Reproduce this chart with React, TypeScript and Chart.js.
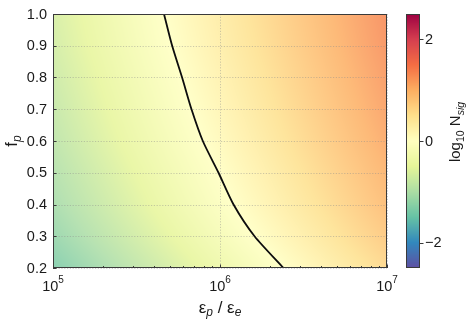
import React, { useEffect, useRef } from 'react';
import { Chart, registerables } from 'chart.js';

Chart.register(...registerables);

// ---- axis ticks ----
const yTicks = [0.2, 0.3, 0.4, 0.5, 0.6, 0.7, 0.8, 0.9, 1.0];
const yTickLabels = ['0.2', '0.3', '0.4', '0.5', '0.6', '0.7', '0.8', '0.9', '1.0'];
const xMajorTicks = [1e5, 1e6, 1e7];
const xTickExponents = ['5', '6', '7'];
const xMinorTicks = [2e5, 3e5, 4e5, 5e5, 6e5, 7e5, 8e5, 9e5, 2e6, 3e6, 4e6, 5e6, 6e6, 7e6, 8e6, 9e6];
const cbTicks = [-2, 0, 2];
const cbTickLabels = ['\u22122', '0', '2'];
const cbMin = -2.5;
const cbMax = 2.5;

// ---- heat map grid: log10 N_sig at (log10 eps_p/eps_e, f_p) ----
const gridLogEps = [5.0, 5.25, 5.5, 5.75, 6.0, 6.25, 6.5, 6.75, 7.0];
const gridF = [0.2, 0.3, 0.4, 0.5, 0.6, 0.7, 0.8, 0.9, 1.0];
const nsigF02 = [-1.38, -1.13, -0.88, -0.63, -0.38, -0.13, 0.12, 0.37, 0.62];
const nsigF03 = [-1.21, -0.96, -0.71, -0.46, -0.21, 0.04, 0.29, 0.54, 0.79];
const nsigF04 = [-1.08, -0.83, -0.58, -0.33, -0.08, 0.17, 0.42, 0.67, 0.92];
const nsigF05 = [-0.99, -0.74, -0.49, -0.24, 0.01, 0.26, 0.51, 0.76, 1.01];
const nsigF06 = [-0.9, -0.65, -0.4, -0.15, 0.1, 0.35, 0.6, 0.85, 1.1];
const nsigF07 = [-0.83, -0.58, -0.33, -0.08, 0.17, 0.42, 0.67, 0.92, 1.17];
const nsigF08 = [-0.77, -0.52, -0.27, -0.02, 0.23, 0.48, 0.73, 0.98, 1.23];
const nsigF09 = [-0.71, -0.46, -0.21, 0.04, 0.29, 0.54, 0.79, 1.04, 1.29];
const nsigF10 = [-0.67, -0.42, -0.17, 0.08, 0.33, 0.58, 0.83, 1.08, 1.33];

// ---- contour N_sig = 1 ----
const contourEps = [4.62e5, 5.17e5, 5.93e5, 6.75e5, 7.89e5, 9.8e5, 1.205e6, 1.61e6, 2.4e6];
const contourF = [1.0, 0.9, 0.8, 0.7, 0.6, 0.5, 0.4, 0.3, 0.2];

const SPECTRAL: number[][] = [
  [158, 1, 66], [213, 62, 79], [244, 109, 67], [253, 174, 97], [254, 224, 139],
  [255, 255, 191], [230, 245, 152], [171, 221, 164], [102, 194, 165], [50, 136, 189], [94, 79, 162],
];

function spectralR(t: number): number[] {
  const s = 1 - Math.max(0, Math.min(1, t));
  const p = s * 10;
  const i = Math.min(9, Math.floor(p));
  const f = p - i;
  const a = SPECTRAL[i];
  const b = SPECTRAL[i + 1];
  return [a[0] + (b[0] - a[0]) * f, a[1] + (b[1] - a[1]) * f, a[2] + (b[2] - a[2]) * f];
}

const HEAT_ALPHA = 0.85;
const FONT = '"Liberation Sans", Arial, sans-serif';
const AXIS_COLOR = '#3a3a3a';
const TICK_FONT_SIZE = 14.5;

type Part = { t: string; size: number; dy?: number; italic?: boolean };

function fontOf(p: Part) {
  return `${p.italic ? 'italic ' : ''}${p.size}px ${FONT}`;
}

function drawRich(ctx: CanvasRenderingContext2D, parts: Part[], x: number, y: number, align: 'left' | 'center' | 'right') {
  let total = 0;
  for (const p of parts) {
    ctx.font = fontOf(p);
    total += ctx.measureText(p.t).width;
  }
  let cx = align === 'left' ? x : align === 'center' ? x - total / 2 : x - total;
  ctx.textAlign = 'left';
  ctx.textBaseline = 'alphabetic';
  for (const p of parts) {
    ctx.font = fontOf(p);
    ctx.fillText(p.t, cx, y + (p.dy || 0));
    cx += ctx.measureText(p.t).width;
  }
}

const heatPlugin = {
  id: 'heat',
  beforeDatasetsDraw(chart: any) {
    const ctx: CanvasRenderingContext2D = chart.ctx;
    const xs = chart.scales.x;
    const ys = chart.scales.y;
    const grid = [nsigF02, nsigF03, nsigF04, nsigF05, nsigF06, nsigF07, nsigF08, nsigF09, nsigF10];
    const a = chart.chartArea;
    const x0 = Math.round(a.left);
    const y0 = Math.round(a.top);
    const w = Math.round(a.right) - x0;
    const h = Math.round(a.bottom) - y0;
    const img = ctx.createImageData(w, h);
    const find = (arr: number[], v: number) => {
      let i = 0;
      while (i < arr.length - 2 && v > arr[i + 1]) i++;
      const t = Math.max(0, Math.min(1, (v - arr[i]) / (arr[i + 1] - arr[i])));
      return [i, t];
    };
    for (let py = 0; py < h; py++) {
      const fv = ys.getValueForPixel(y0 + py + 0.5);
      const [j, tj] = find(gridF, fv);
      for (let px = 0; px < w; px++) {
        const le = Math.log10(xs.getValueForPixel(x0 + px + 0.5));
        const [i, ti] = find(gridLogEps, le);
        const v00 = grid[j][i], v01 = grid[j][i + 1], v10 = grid[j + 1][i], v11 = grid[j + 1][i + 1];
        const v = (v00 * (1 - ti) + v01 * ti) * (1 - tj) + (v10 * (1 - ti) + v11 * ti) * tj;
        const c = spectralR((v - cbMin) / (cbMax - cbMin));
        const k = (py * w + px) * 4;
        img.data[k] = c[0] * HEAT_ALPHA + 255 * (1 - HEAT_ALPHA);
        img.data[k + 1] = c[1] * HEAT_ALPHA + 255 * (1 - HEAT_ALPHA);
        img.data[k + 2] = c[2] * HEAT_ALPHA + 255 * (1 - HEAT_ALPHA);
        img.data[k + 3] = 255;
      }
    }
    ctx.putImageData(img, x0, y0);

    // dotted grid
    ctx.save();
    ctx.strokeStyle = 'rgba(140,140,140,0.55)';
    ctx.lineWidth = 0.8;
    ctx.setLineDash([1.2, 1.6]);
    for (const t of yTicks) {
      const y = Math.round(ys.getPixelForValue(t)) + 0.5;
      ctx.beginPath();
      ctx.moveTo(a.left, y);
      ctx.lineTo(a.right, y);
      ctx.stroke();
    }
    for (const t of xMajorTicks) {
      const x = Math.round(xs.getPixelForValue(t)) + 0.5;
      ctx.beginPath();
      ctx.moveTo(x, a.top);
      ctx.lineTo(x, a.bottom);
      ctx.stroke();
    }
    ctx.restore();
  },
  afterDraw(chart: any) {
    const ctx: CanvasRenderingContext2D = chart.ctx;
    const xs = chart.scales.x;
    const ys = chart.scales.y;
    const cs = chart.scales.cb;
    const a = chart.chartArea;
    ctx.save();
    ctx.setLineDash([]);
    // frame
    ctx.strokeStyle = AXIS_COLOR;
    ctx.lineWidth = 1;
    ctx.strokeRect(Math.round(a.left) + 0.5, Math.round(a.top) + 0.5, Math.round(a.right - a.left) - 1, Math.round(a.bottom - a.top) - 1);
    // ticks
    ctx.beginPath();
    for (const t of yTicks) {
      const y = Math.round(ys.getPixelForValue(t)) + 0.5;
      ctx.moveTo(a.left, y);
      ctx.lineTo(a.left + 3.5, y);
    }
    for (const t of xMajorTicks) {
      const x = Math.round(xs.getPixelForValue(t)) + 0.5;
      ctx.moveTo(x, a.bottom);
      ctx.lineTo(x, a.bottom - 3.5);
    }
    for (const t of xMinorTicks) {
      const x = Math.round(xs.getPixelForValue(t)) + 0.5;
      ctx.moveTo(x, a.bottom);
      ctx.lineTo(x, a.bottom - 2);
    }
    ctx.stroke();

    // tick labels
    ctx.fillStyle = '#1a1a1a';
    ctx.font = `${TICK_FONT_SIZE}px ${FONT}`;
    ctx.textAlign = 'right';
    ctx.textBaseline = 'middle';
    yTicks.forEach((t, i) => {
      ctx.fillText(yTickLabels[i], a.left - 6, ys.getPixelForValue(t) + 0.5);
    });
    xMajorTicks.forEach((t, i) => {
      const x = xs.getPixelForValue(t);
      drawRich(ctx, [
        { t: '10', size: TICK_FONT_SIZE },
        { t: xTickExponents[i], size: 10, dy: -7.5 },
      ], x, a.bottom + 22.5, 'center');
    });

    // axis titles
    drawRich(ctx, [
      { t: '\u03b5', size: 17 },
      { t: 'p', size: 12, dy: 3.5, italic: true },
      { t: ' / \u03b5', size: 17 },
      { t: 'e', size: 12, dy: 3.5, italic: true },
    ], (a.left + a.right) / 2, 312.5, 'center');

    ctx.save();
    ctx.translate(17, (a.top + a.bottom) / 2);
    ctx.rotate(-Math.PI / 2);
    drawRich(ctx, [
      { t: 'f', size: 16.5 },
      { t: 'p', size: 12, dy: 3.5, italic: true },
    ], 0, 0, 'center');
    ctx.restore();

    // colorbar
    const cbL = 406;
    const cbR = 420;
    const top = Math.round(cs.getPixelForValue(cbMax));
    const bot = Math.round(cs.getPixelForValue(cbMin));
    for (let y = top; y < bot; y++) {
      const v = cs.getValueForPixel(y + 0.5);
      const c = spectralR((v - cbMin) / (cbMax - cbMin));
      ctx.fillStyle = `rgb(${c[0]},${c[1]},${c[2]})`;
      ctx.fillRect(cbL, y, cbR - cbL, 1);
    }
    ctx.strokeStyle = AXIS_COLOR;
    ctx.lineWidth = 1;
    ctx.strokeRect(cbL + 0.5, top + 0.5, cbR - cbL - 1, bot - top - 1);
    ctx.beginPath();
    for (const t of cbTicks) {
      const y = Math.round(cs.getPixelForValue(t)) + 0.5;
      ctx.moveTo(cbR, y);
      ctx.lineTo(cbR + 3.5, y);
    }
    ctx.stroke();
    ctx.fillStyle = '#1a1a1a';
    ctx.font = `${TICK_FONT_SIZE}px ${FONT}`;
    ctx.textAlign = 'left';
    ctx.textBaseline = 'middle';
    cbTicks.forEach((t, i) => {
      ctx.fillText(cbTickLabels[i], cbR + 5, cs.getPixelForValue(t) + 0.5);
    });
    ctx.save();
    ctx.translate(460, 132);
    ctx.rotate(-Math.PI / 2);
    drawRich(ctx, [
      { t: 'log', size: 15 },
      { t: '10', size: 10.5, dy: 3.5 },
      { t: ' N', size: 15 },
      { t: 'sig', size: 10.5, dy: 3.5, italic: true },
    ], 0, 0, 'center');
    ctx.restore();
    ctx.restore();
  },
};

export default function App() {
  const ref = useRef<HTMLCanvasElement | null>(null);
  useEffect(() => {
    document.body.style.margin = '0';
    if (!ref.current) return;
    const chart = new Chart(ref.current, {
      type: 'scatter',
      data: {
        datasets: [
          {
            data: contourEps.map((x, i) => ({ x, y: contourF[i] })),
            showLine: true,
            borderColor: '#0d0d0d',
            borderWidth: 1.8,
            pointRadius: 0,
            tension: 0.25,
          },
        ],
      },
      options: {
        animation: false,
        responsive: false,
        layout: { padding: { left: 53, right: 84, top: 14, bottom: 52 } },
        plugins: { legend: { display: false }, tooltip: { enabled: false } },
        scales: {
          x: { type: 'logarithmic', min: 1e5, max: 1e7, display: false },
          y: { type: 'linear', min: 0.2, max: 1.0, display: false },
          cb: { type: 'linear', axis: 'y', position: 'right', min: cbMin, max: cbMax, display: false },
        },
      } as any,
      plugins: [heatPlugin],
    });
    return () => chart.destroy();
  }, []);
  return (
    <div style={{ width: 471, height: 320 }}>
      <canvas ref={ref} width={471} height={320} style={{ display: 'block' }} />
    </div>
  );
}
